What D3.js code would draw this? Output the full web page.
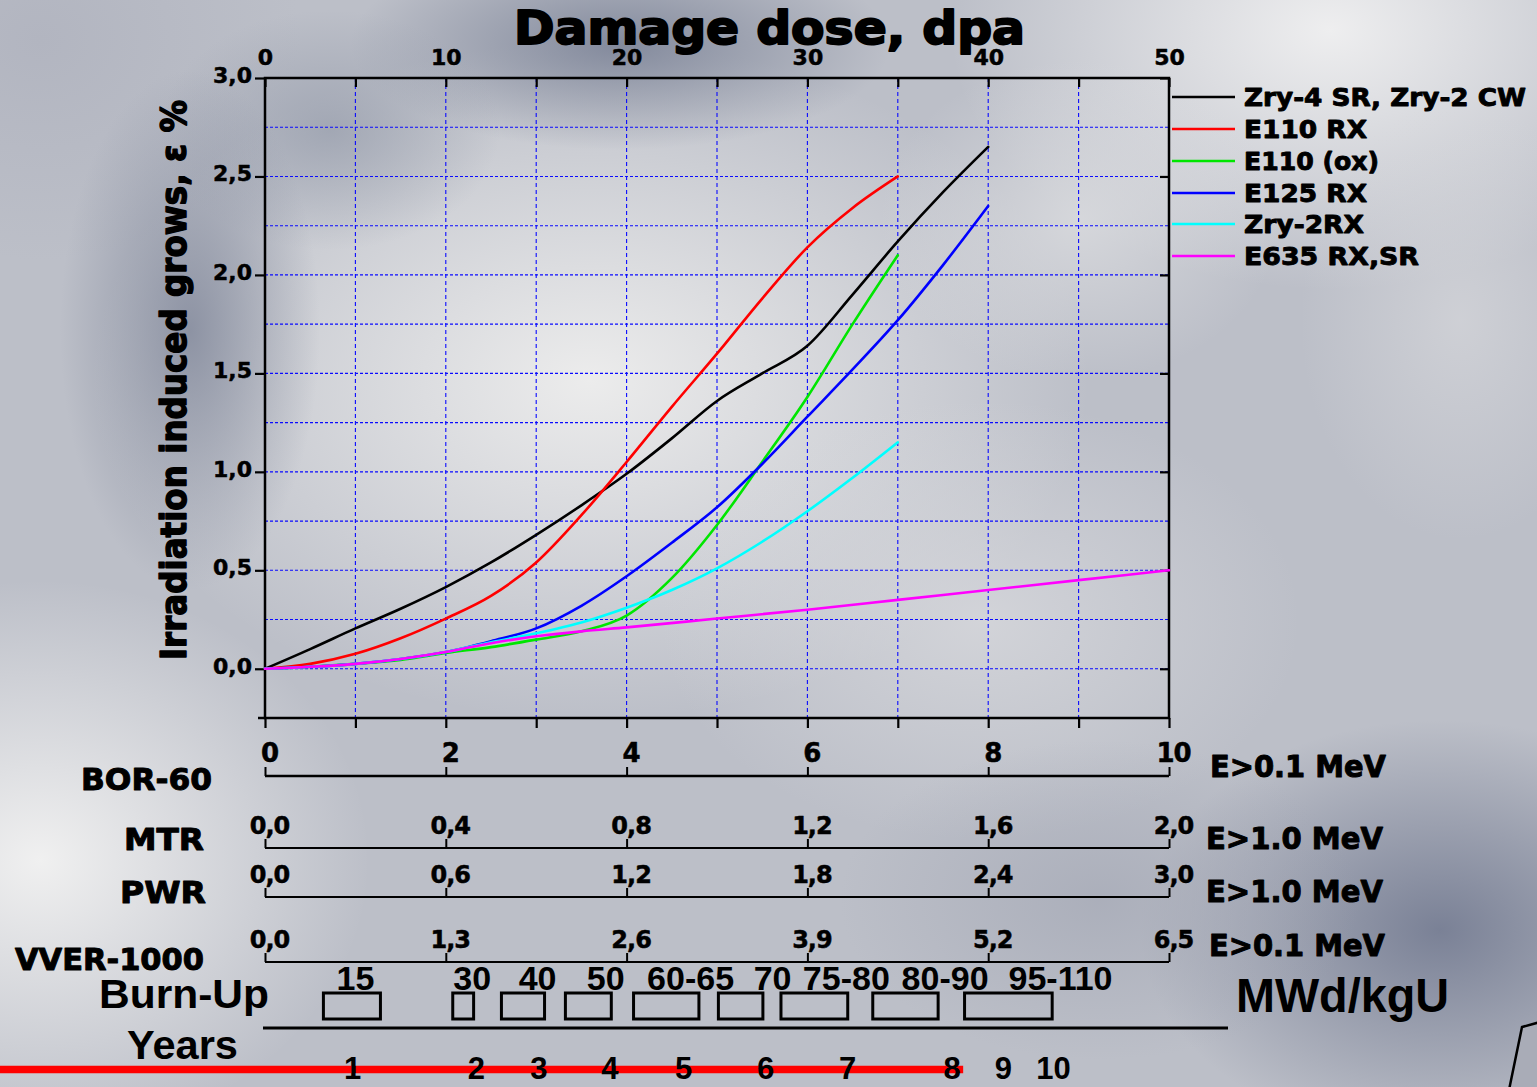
<!DOCTYPE html>
<html>
<head>
<meta charset="utf-8">
<script src="https://cdn.jsdelivr.net/npm/d3@7"></script>
<style>
  body { margin: 0; overflow: hidden; background: #babdc7; }
  svg { display: block; }
</style>
</head>
<body>
<svg id="chart" width="1537" height="1087"></svg>
<script>
// ---- data -------------------------------------------------------------
// damage dose grid (dpa) for each curve
const doseTo35 = [0, 2.5, 5, 7.5, 10, 12.5, 15, 17.5, 20, 22.5, 25, 27.5, 30, 32.5, 35];
const doseTo40 = [0, 2.5, 5, 7.5, 10, 12.5, 15, 17.5, 20, 22.5, 25, 27.5, 30, 32.5, 35, 37.5, 40];
const doseTo50 = [0, 2.5, 5, 7.5, 10, 12.5, 15, 17.5, 20, 25, 30, 35, 40, 45, 50];

// irradiation induced growth, %
const growthZry4SR = [0, 0.10, 0.205, 0.305, 0.415, 0.54, 0.68, 0.83, 0.99, 1.17, 1.36, 1.50, 1.64, 1.90, 2.17, 2.42, 2.65];
const growthE110RX = [0, 0.025, 0.076, 0.155, 0.255, 0.37, 0.54, 0.78, 1.05, 1.33, 1.60, 1.88, 2.14, 2.34, 2.50];
const growthE110ox = [0, 0.01, 0.025, 0.045, 0.08, 0.11, 0.148, 0.19, 0.27, 0.46, 0.73, 1.05, 1.38, 1.75, 2.10];
const growthE125RX = [0, 0.01, 0.025, 0.05, 0.085, 0.14, 0.205, 0.32, 0.47, 0.64, 0.82, 1.04, 1.28, 1.52, 1.77, 2.05, 2.35];
const growthZry2RX = [0, 0.01, 0.025, 0.05, 0.085, 0.135, 0.18, 0.235, 0.31, 0.40, 0.51, 0.645, 0.80, 0.97, 1.15];
const growthE635 = [0, 0.01, 0.025, 0.05, 0.085, 0.13, 0.165, 0.19, 0.21, 0.255, 0.30, 0.35, 0.40, 0.45, 0.50];

const seriesLabels = ["Zry-4 SR, Zry-2 CW", "E110 RX", "E110 (ox)", "E125 RX", "Zry-2RX", "E635 RX,SR"];

const doseTicks = [0, 5, 10, 15, 20, 25, 30, 35, 40, 45, 50];
const growthTicks = [0, 0.5, 1.0, 1.5, 2.0, 2.5, 3.0];

// equivalent fluence scales (10^22 n/cm2) for the reactors
const reactorNames = ["BOR-60", "MTR", "PWR", "VVER-1000"];
const reactorMax = [10, 2.0, 3.0, 6.5];
const reactorTicks = [
  [0, 2, 4, 6, 8, 10],
  [0, 0.4, 0.8, 1.2, 1.6, 2.0],
  [0, 0.6, 1.2, 1.8, 2.4, 3.0],
  [0, 1.3, 2.6, 3.9, 5.2, 6.5]
];
const reactorEnergy = ["E>0.1 MeV", "E>1.0 MeV", "E>1.0 MeV", "E>0.1 MeV"];

// VVER-1000 burn-up ranges (MWd/kgU) placed on the VVER-1000 fluence scale
const burnUpLabels = ["15", "30", "40", "50", "60-65", "70", "75-80", "80-90", "95-110"];
const burnUpCentre = [0.65, 1.49, 1.96, 2.45, 3.06, 3.65, 4.18, 4.89, 5.72];
const burnUpFrom = [0.42, 1.35, 1.70, 2.16, 2.65, 3.26, 3.71, 4.37, 5.03];
const burnUpTo = [0.83, 1.50, 2.01, 2.49, 3.12, 3.58, 4.19, 4.84, 5.66];

// years of operation on the same scale
const yearLabels = ["1", "2", "3", "4", "5", "6", "7", "8", "9", "10"];
const yearAt = [0.63, 1.52, 1.97, 2.48, 3.01, 3.60, 4.19, 4.94, 5.31, 5.67];
const operatedUpTo = 5.02;

// ---- layout -----------------------------------------------------------
const W = 1537, H = 1087;
const L = 265, R = 1169, T = 78, B = 718;
const BOLD = "'DejaVu Sans', sans-serif";
const ARIAL = "'Liberation Sans', Arial, sans-serif";

const svg = d3.select("#chart");
const defs = svg.append("defs");

// heavy black lettering: glyph fill plus a thin outline
function heavy(sel, w) {
  sel.attr("fill", "#000").attr("stroke", "#000").attr("stroke-width", w)
    .attr("stroke-linejoin", "round").attr("paint-order", "stroke");
}

// ---- background: soft grey metallic shading ----------------------------
svg.append("rect").attr("width", W).attr("height", H).attr("fill", "#bcbfc8");
const shades = [
  { cx: 40, cy: 40, rx: 260, ry: 220, c: "#b2b5c0", o: 1 },
  { cx: 590, cy: 380, rx: 500, ry: 340, c: "#ececec", o: 1 },
  { cx: 1330, cy: 30, rx: 380, ry: 260, c: "#eeeeef", o: 1 },
  { cx: 40, cy: 860, rx: 330, ry: 280, c: "#f0f0f0", o: 1 },
  { cx: 980, cy: 620, rx: 320, ry: 220, c: "#d8d9dd", o: 0.8 },
  { cx: 1080, cy: 220, rx: 200, ry: 160, c: "#dcdde0", o: 0.8 },
  { cx: 1460, cy: 320, rx: 160, ry: 220, c: "#d6d7db", o: 0.7 },
  { cx: 620, cy: 45, rx: 270, ry: 105, c: "#80879a", o: 0.95 },
  { cx: 330, cy: 130, rx: 170, ry: 120, c: "#9aa0ae", o: 0.8 },
  { cx: 190, cy: 330, rx: 130, ry: 260, c: "#8a90a1", o: 0.95 },
  { cx: 1440, cy: 930, rx: 300, ry: 210, c: "#7a8196", o: 1 },
  { cx: 1100, cy: 900, rx: 260, ry: 160, c: "#a4a8b5", o: 0.7 }
];
shades.forEach((s, i) => {
  const g = defs.append("radialGradient").attr("id", "shade" + i);
  g.append("stop").attr("offset", "0%").attr("stop-color", s.c).attr("stop-opacity", s.o);
  g.append("stop").attr("offset", "100%").attr("stop-color", s.c).attr("stop-opacity", 0);
  svg.append("ellipse").attr("cx", s.cx).attr("cy", s.cy).attr("rx", s.rx).attr("ry", s.ry)
    .attr("fill", `url(#shade${i})`);
});

// ---- scales -----------------------------------------------------------
const xDose = d3.scaleLinear().domain([0, 50]).range([L, R]);
const yGrowth = d3.scaleLinear().domain([-0.25, 3.0]).range([B, T]);
const comma = d => d3.format(".1f")(d).replace(".", ",");

// ---- grid -------------------------------------------------------------
const grid = svg.append("g").attr("stroke", "#0a0aff").attr("stroke-width", 1.1);
grid.selectAll("line.v").data(d3.range(5, 50, 5)).join("line")
  .attr("class", "v")
  .attr("x1", d => xDose(d)).attr("x2", d => xDose(d))
  .attr("y1", T).attr("y2", B)
  .attr("stroke-dasharray", "4,3");
grid.selectAll("line.h").data(d3.range(0, 3.0, 0.25)).join("line")
  .attr("class", "h")
  .attr("x1", L).attr("x2", R)
  .attr("y1", d => yGrowth(d)).attr("y2", d => yGrowth(d))
  .attr("stroke-dasharray", "3,2");

// ---- axes -------------------------------------------------------------
function styleAxis(g, size) {
  g.select(".domain").remove();
  g.selectAll(".tick line").attr("stroke", "#000").attr("stroke-width", 2.2);
  g.selectAll("text").attr("font-family", BOLD)
    .attr("font-weight", "bold").attr("font-size", size).call(heavy, 0.5);
}

// top dose axis
svg.append("g").attr("transform", `translate(0,${T})`)
  .call(d3.axisTop(xDose).tickValues(doseTicks).tickSizeInner(-9).tickSizeOuter(0)
    .tickPadding(13).tickFormat(d => d % 10 === 0 ? d : ""))
  .call(g => styleAxis(g, 22));

// left growth axis
svg.append("g").attr("transform", `translate(${L},0)`)
  .call(d3.axisLeft(yGrowth).tickValues(growthTicks).tickSize(10).tickPadding(3).tickFormat(comma))
  .call(g => styleAxis(g, 22))
  .call(g => g.selectAll("text").attr("dy", "0.2em"));

// right inner ticks
svg.append("g").attr("transform", `translate(${R},0)`)
  .call(d3.axisLeft(yGrowth).tickValues(growthTicks).tickSize(-9).tickFormat(""))
  .call(g => styleAxis(g, 22))
  .call(g => g.selectAll(".tick line").attr("x2", -9));

// bottom ticks of the plot (BOR-60 fluence units)
const xBor = d3.scaleLinear().domain([0, reactorMax[0]]).range([L, R]);
svg.append("g").attr("transform", `translate(0,${B})`)
  .call(d3.axisBottom(xBor).tickValues(d3.range(0, 11, 1)).tickSize(10).tickFormat(""))
  .call(g => styleAxis(g, 22));

// frame
svg.append("rect").attr("x", L).attr("y", T).attr("width", R - L).attr("height", B - T)
  .attr("fill", "none").attr("stroke", "#000").attr("stroke-width", 2.5);
svg.append("line").attr("x1", L - 7).attr("x2", L).attr("y1", B).attr("y2", B)
  .attr("stroke", "#000").attr("stroke-width", 2.5);

// ---- curves -----------------------------------------------------------
const series = [
  { label: seriesLabels[0], dose: doseTo40, growth: growthZry4SR, color: "#000000" },
  { label: seriesLabels[1], dose: doseTo35, growth: growthE110RX, color: "#ff0000" },
  { label: seriesLabels[2], dose: doseTo35, growth: growthE110ox, color: "#00e600" },
  { label: seriesLabels[3], dose: doseTo40, growth: growthE125RX, color: "#0000ff" },
  { label: seriesLabels[4], dose: doseTo35, growth: growthZry2RX, color: "#00ffff" },
  { label: seriesLabels[5], dose: doseTo50, growth: growthE635, color: "#ff00ff" }
];
const line = d3.line()
  .x(d => xDose(d[0])).y(d => yGrowth(d[1]))
  .curve(d3.curveMonotoneX);
svg.append("g").selectAll("path").data(series).join("path")
  .attr("d", s => line(d3.zip(s.dose, s.growth)))
  .attr("fill", "none").attr("stroke", s => s.color).attr("stroke-width", 2.6)
  .attr("stroke-linejoin", "round").attr("stroke-linecap", "round");

// ---- legend -----------------------------------------------------------
const legendRowY = [97, 129, 161, 193, 224, 256];
const legendWidth = [282, 123, 135, 123, 120, 175];
const legend = svg.append("g");
series.forEach((s, i) => {
  legend.append("line").attr("x1", 1172).attr("x2", 1235)
    .attr("y1", legendRowY[i]).attr("y2", legendRowY[i])
    .attr("stroke", s.color).attr("stroke-width", 2.6);
  legend.append("text").attr("x", 1244).attr("y", legendRowY[i] + 8.5)
    .attr("font-family", BOLD).attr("font-weight", "bold").attr("font-size", 24)
    .attr("textLength", legendWidth[i]).attr("lengthAdjust", "spacingAndGlyphs")
    .call(heavy, 0.9)
    .text(s.label);
});

// ---- titles -----------------------------------------------------------
svg.append("text").attr("x", 514).attr("y", 44)
  .attr("font-family", BOLD).attr("font-weight", "bold").attr("font-size", 46)
  .attr("textLength", 511).attr("lengthAdjust", "spacingAndGlyphs")
  .call(heavy, 2)
  .text("Damage dose, dpa");

svg.append("text")
  .attr("transform", "translate(186,660) rotate(-90)")
  .attr("font-family", BOLD).attr("font-weight", "bold").attr("font-size", 35)
  .attr("textLength", 560).attr("lengthAdjust", "spacingAndGlyphs")
  .call(heavy, 1.4)
  .text("Irradiation induced grows, ε %");

// ---- reactor fluence scales --------------------------------------------
const reactorLineY = [776, 848, 897, 962];
const reactorNameBox = [[81, 790, 131], [124, 850, 80], [120, 903, 86], [15, 970, 189]];
const energyBox = [[1210, 777, 176], [1206, 849, 177], [1206, 902, 177], [1209, 956, 176]];
reactorNames.forEach((name, i) => {
  const sc = d3.scaleLinear().domain([0, reactorMax[i]]).range([L, R]);
  const fmt = i === 0 ? d3.format("d") : comma;
  svg.append("g").attr("transform", `translate(0,${reactorLineY[i]})`)
    .call(d3.axisTop(sc).tickValues(reactorTicks[i]).tickSizeInner(9).tickSizeOuter(0)
      .tickPadding(5).tickFormat(fmt))
    .call(g => {
      g.select(".domain").attr("stroke", "#000").attr("stroke-width", i === 0 ? 2.6 : 2.2)
        .attr("d", `M${L},0H${R}`);
      g.selectAll(".tick line").attr("stroke", "#000").attr("stroke-width", 2);
      g.selectAll("text").attr("font-family", BOLD)
        .attr("font-weight", "bold").attr("font-size", i === 0 ? 26 : 24)
        .attr("dx", 4).attr("letter-spacing", -1).call(heavy, 0.5);
    });
  const nb = reactorNameBox[i];
  svg.append("text").attr("x", nb[0]).attr("y", nb[1])
    .attr("font-family", BOLD).attr("font-weight", "bold").attr("font-size", 31)
    .attr("textLength", nb[2]).attr("lengthAdjust", "spacingAndGlyphs")
    .call(heavy, 1).text(name);
  const eb = energyBox[i];
  svg.append("text").attr("x", eb[0]).attr("y", eb[1])
    .attr("font-family", BOLD).attr("font-weight", "bold").attr("font-size", 31)
    .attr("textLength", eb[2]).attr("lengthAdjust", "spacingAndGlyphs")
    .call(heavy, 1).text(reactorEnergy[i]);
});

// ---- burn-up and years --------------------------------------------------
const xVver = d3.scaleLinear().domain([0, reactorMax[3]]).range([L, R]);

svg.append("text").attr("x", 99).attr("y", 1008)
  .attr("font-family", ARIAL).attr("font-weight", "bold").attr("font-size", 41)
  .attr("textLength", 170).attr("lengthAdjust", "spacingAndGlyphs").attr("fill", "#000")
  .text("Burn-Up");
svg.append("text").attr("x", 127).attr("y", 1059)
  .attr("font-family", ARIAL).attr("font-weight", "bold").attr("font-size", 41)
  .attr("textLength", 111).attr("lengthAdjust", "spacingAndGlyphs").attr("fill", "#000")
  .text("Years");
svg.append("text").attr("x", 1236).attr("y", 1012)
  .attr("font-family", ARIAL).attr("font-weight", "bold").attr("font-size", 48)
  .attr("textLength", 213).attr("lengthAdjust", "spacingAndGlyphs").attr("fill", "#000")
  .text("MWd/kgU");

svg.append("g").selectAll("text").data(burnUpLabels).join("text")
  .attr("x", (d, i) => xVver(burnUpCentre[i])).attr("y", 990)
  .attr("text-anchor", "middle")
  .attr("font-family", ARIAL).attr("font-weight", "bold").attr("font-size", 34)
  .attr("fill", "#000")
  .text(d => d);

svg.append("g").selectAll("rect").data(burnUpLabels).join("rect")
  .attr("x", (d, i) => xVver(burnUpFrom[i]))
  .attr("width", (d, i) => xVver(burnUpTo[i]) - xVver(burnUpFrom[i]))
  .attr("y", 993).attr("height", 26)
  .attr("fill", "none").attr("stroke", "#000").attr("stroke-width", 3);

svg.append("line").attr("x1", 263).attr("x2", 1228).attr("y1", 1028).attr("y2", 1028)
  .attr("stroke", "#000").attr("stroke-width", 3.2);

svg.append("line").attr("x1", 0).attr("x2", xVver(operatedUpTo))
  .attr("y1", 1069.5).attr("y2", 1069.5)
  .attr("stroke", "#ff0000").attr("stroke-width", 7.5);

svg.append("g").selectAll("text").data(yearLabels).join("text")
  .attr("x", (d, i) => xVver(yearAt[i])).attr("y", 1079)
  .attr("text-anchor", "middle")
  .attr("font-family", ARIAL).attr("font-weight", "bold").attr("font-size", 31)
  .attr("fill", "#000")
  .text(d => d);

// corner ornament
svg.append("path").attr("d", "M1509,1090 L1522,1027 L1540,1022 L1540,1090 Z")
  .attr("fill", "#a9acb7").attr("stroke", "#000").attr("stroke-width", 2.5);
</script>
</body>
</html>
